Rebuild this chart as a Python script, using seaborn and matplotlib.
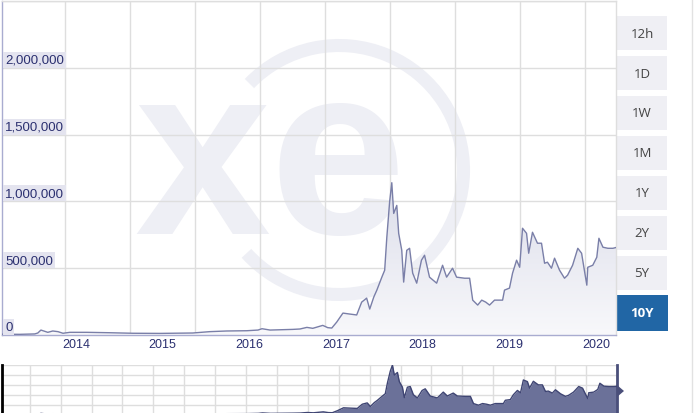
"""
Bitcoin-style 10Y price chart with navigator strip (xe look-alike).
Writes out.png
"""

import numpy as np
import pandas as pd
import matplotlib
matplotlib.use("Agg")   # headless
import matplotlib.pyplot as plt
import matplotlib.dates as mdates
import matplotlib.transforms as mtransforms
from matplotlib.colors import LinearSegmentedColormap
from matplotlib.patches import Rectangle, Arc, Polygon
from matplotlib.ticker import FixedLocator
import seaborn as sns

# ------------------------------------------------------------------ #
# Data
# ------------------------------------------------------------------ #
price_dates = [
    "2013-05-14", "2013-07-28", "2013-09-29", "2013-10-12", "2013-10-25",
    "2013-11-06", "2013-11-23", "2013-12-14", "2014-01-05", "2014-01-26",
    "2014-02-24", "2014-05-07", "2014-08-11", "2014-11-16", "2015-03-10",
    "2015-07-27", "2015-10-06", "2015-12-17", "2016-03-11", "2016-04-27",
    "2016-05-14", "2016-06-17", "2016-09-21", "2016-10-21", "2016-11-19",
    "2016-12-14", "2017-01-25", "2017-02-15", "2017-03-04", "2017-03-25",
    "2017-04-20", "2017-05-18", "2017-06-17", "2017-07-08", "2017-07-29",
    "2017-08-11", "2017-08-28", "2017-09-10", "2017-10-01", "2017-10-13",
    "2017-10-22", "2017-11-03", "2017-11-12", "2017-11-20", "2017-12-03",
    "2017-12-11", "2017-12-24", "2018-01-01", "2018-01-14", "2018-01-26",
    "2018-02-08", "2018-02-25", "2018-03-17", "2018-03-30", "2018-04-20",
    "2018-05-20", "2018-06-14", "2018-07-01", "2018-07-26", "2018-08-12",
    "2018-09-15", "2018-10-06", "2018-10-19", "2018-11-09", "2018-11-26",
    "2018-12-13", "2018-12-29", "2019-01-19", "2019-02-22", "2019-03-02",
    "2019-03-23", "2019-04-05", "2019-04-22", "2019-05-05", "2019-05-17",
    "2019-06-03", "2019-06-12", "2019-06-28", "2019-07-19", "2019-08-05",
    "2019-08-18", "2019-08-30", "2019-09-16", "2019-09-29", "2019-10-20",
    "2019-11-10", "2019-11-23", "2019-12-14", "2020-01-05", "2020-01-21",
    "2020-02-03", "2020-02-12", "2020-02-16", "2020-03-08", "2020-03-25",
    "2020-04-03", "2020-04-20", "2020-05-11", "2020-06-01", "2020-06-14",
]
price_values = [
    6000, 5000, 8000, 15000, 37000,
    30000, 20000, 30000, 25000, 13000,
    20000, 20000, 17000, 13000, 12000,
    15000, 25000, 30000, 32000, 37000,
    47000, 37000, 42000, 45000, 57000,
    50000, 72000, 55000, 52000, 97000,
    164000, 157000, 150000, 246000, 276000,
    194000, 284000, 336000, 433000, 485000,
    731000, 1000000, 1140000, 910000, 970000,
    761000, 634000, 396000, 634000, 649000,
    463000, 388000, 560000, 597000, 433000,
    388000, 522000, 433000, 500000, 433000,
    425000, 425000, 261000, 224000, 261000,
    246000, 224000, 261000, 261000, 336000,
    351000, 463000, 560000, 507000, 799000,
    761000, 612000, 769000, 687000, 687000,
    537000, 545000, 500000, 575000, 485000,
    425000, 448000, 522000, 649000, 612000,
    470000, 373000, 507000, 522000, 582000,
    724000, 657000, 649000, 649000, 655000,
]

y_ticks = [0, 500000, 1000000, 1500000, 2000000]
y_labels = ["0", "500,000", "1,000,000", "1,500,000", "2,000,000"]
year_ticks = ["2014-01-01", "2015-01-01", "2016-01-01", "2017-01-01",
              "2018-01-01", "2019-01-01", "2020-01-01"]
year_labels = ["2014", "2015", "2016", "2017", "2018", "2019", "2020"]
buttons = ["12h", "1D", "1W", "1M", "1Y", "2Y", "5Y", "10Y"]
active_button = "10Y"

# ------------------------------------------------------------------ #
# Style
# ------------------------------------------------------------------ #
sns.set_theme(style="white")
plt.rcParams["font.family"] = ["Liberation Sans", "DejaVu Sans"]

NAVY = "#2b3070"
LINE = "#7a7fa8"
GRID = "#dedede"
AXIS = "#a9acd0"
WATERMARK = "#eeeff5"

df = pd.DataFrame({"date": pd.to_datetime(price_dates), "price": price_values})
x_start, x_end = pd.Timestamp("2013-05-14"), pd.Timestamp("2020-06-14")

fig = plt.figure(figsize=(6.95, 4.14), dpi=100)
fig.patch.set_facecolor("white")

# background layer in pixel coordinates: watermark + range buttons
bg = fig.add_axes([0, 0, 1, 1], zorder=0)
bg.set_xlim(0, 695)
bg.set_ylim(414, 0)
bg.axis("off")

bg.text(270, 234, "xe", fontsize=176, fontweight="bold", color=WATERMARK,
        ha="center", va="baseline")
bg.add_patch(Arc((339, 171), 249, 249, theta1=-136, theta2=138,
                 lw=9.4, color=WATERMARK))

for i, lab in enumerate(buttons):
    if lab == active_button:
        bg.add_patch(Rectangle((616, 296), 52, 36, color="#2166a5", lw=0))
        bg.text(642, 314, lab, fontsize=9.5, color="white", fontweight="bold",
                ha="center", va="center", family="Open Sans")
    else:
        y0 = 17 + 40 * i
        bg.add_patch(Rectangle((617, y0), 50, 34, color="#efeff4", lw=0))
        bg.text(642, y0 + 17, lab, fontsize=9.5, color="#444444",
                ha="center", va="center", family="Open Sans")

bg.plot([692, 692], [0, 414], color="#e2e2e2", lw=1)
bg.add_patch(Polygon([(617, 386), (624, 392), (617, 398)], color="#4a4f7a", lw=0))

# ------------------------------------------------------------------ #
# Main chart
# ------------------------------------------------------------------ #
ax = fig.add_axes([2 / 695, 1 - 336 / 414, 614 / 695, 334 / 414], zorder=1)
ax.set_facecolor("none")

poly = ax.fill_between(df["date"], df["price"], 0, facecolor="none", edgecolor="none")
xnum = mdates.date2num(df["date"])
grad = np.linspace(0, 1, 256).reshape(-1, 1)
cmap = LinearSegmentedColormap.from_list("fill", ["#f8f8fb", "#dcdeea"])
im = ax.imshow(grad, extent=[xnum[0], xnum[-1], 0, max(price_values)],
               origin="lower", aspect="auto", cmap=cmap, zorder=1)
im.set_clip_path(poly.get_paths()[0], transform=ax.transData)

sns.lineplot(data=df, x="date", y="price", ax=ax, color=LINE, lw=1, zorder=3)

ax.set_xlim(x_start, x_end)
ax.set_ylim(0, 2500000)
ax.set_xlabel("")
ax.set_ylabel("")

ax.set_yticks(y_ticks + [2500000])
ax.set_yticklabels([])
ax.set_xticks(pd.to_datetime(year_ticks))
ax.set_xticklabels([])
grid_dates = pd.date_range("2014-02-04", periods=9, freq="274D")
ax.xaxis.set_minor_locator(FixedLocator(mdates.date2num(grid_dates)))
ax.tick_params(axis="x", which="major", length=14.4, width=1, color="#c8cade",
               direction="out")
ax.tick_params(axis="x", which="minor", length=0)
ax.tick_params(axis="y", length=0)
ax.set_axisbelow(True)
ax.grid(axis="y", color=GRID, lw=1)
ax.grid(axis="x", which="minor", color=GRID, lw=1)
ax.grid(axis="x", which="major", visible=False)

for side in ["left", "bottom"]:
    ax.spines[side].set_color(AXIS)
    ax.spines[side].set_linewidth(1)
for side in ["top", "right"]:
    ax.spines[side].set_color(GRID)
    ax.spines[side].set_linewidth(1)

ytrans = mtransforms.offset_copy(
    mtransforms.blended_transform_factory(ax.transAxes, ax.transData),
    fig=fig, x=0, y=2, units="dots")
for v, lab in zip(y_ticks, y_labels):
    ax.text(3 / 614, v, lab, transform=ytrans, fontsize=9.5, color=NAVY,
            ha="left", va="bottom", zorder=4,
            bbox=dict(boxstyle="square,pad=0.15", fc="#e4e4ef", ec="none"))

xtrans = mtransforms.offset_copy(
    mtransforms.blended_transform_factory(ax.transData, ax.transAxes),
    fig=fig, x=5, y=-3.5, units="dots")
for d, lab in zip(pd.to_datetime(year_ticks), year_labels):
    ax.text(mdates.date2num(d), 0, lab, transform=xtrans, fontsize=9,
            color=NAVY, ha="left", va="top", clip_on=False)

# ------------------------------------------------------------------ #
# Navigator strip
# ------------------------------------------------------------------ #
nav = fig.add_axes([2 / 695, -2 / 414, 615 / 695, 50 / 414], zorder=1)
nav.set_facecolor("none")
nav_ymax = 1140000
nav.fill_between(df["date"], df["price"], 0, color="#6b7199", lw=0, zorder=2)
sns.lineplot(data=df, x="date", y="price", ax=nav, color="#3f4573", lw=1, zorder=3)
nav.set_xlim(x_start, x_end)
nav.set_ylim(0, nav_ymax)
nav.set_xlabel("")
nav.set_ylabel("")
nav.set_xticks(pd.date_range("2013-09-08", periods=20, freq="130D"))
nav.set_yticks(np.linspace(0, nav_ymax, 6))
nav.set_xticklabels([])
nav.set_yticklabels([])
nav.tick_params(length=0)
nav.set_axisbelow(True)
nav.grid(True, color=GRID, lw=1)
nav.spines["left"].set_color("black")
nav.spines["left"].set_linewidth(2)
nav.spines["right"].set_color("#4a4f7a")
nav.spines["right"].set_linewidth(2)
nav.spines["top"].set_visible(False)
nav.spines["bottom"].set_visible(False)

fig.savefig("out.png", dpi=100)
plt.close(fig)
